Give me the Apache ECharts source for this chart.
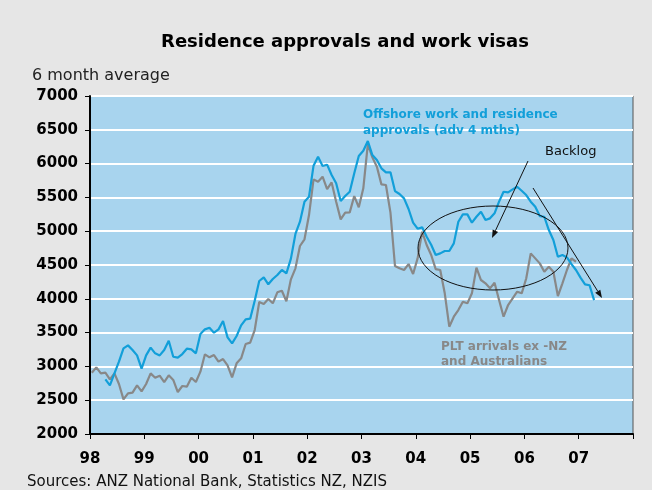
<!DOCTYPE html>
<html>
<head>
<meta charset="utf-8">
<script src="https://cdn.jsdelivr.net/npm/echarts@6/dist/echarts.min.js"></script>
<style>
html,body{margin:0;padding:0;background:#e6e6e6;}
#c{width:652px;height:490px;}
</style>
</head>
<body>
<div id="c"></div>
<script>
// Month index 0 = Jan 1998
const yearTicks = ['98','99','00','01','02','03','04','05','06','07',''];
const grayName = 'PLT arrivals ex -NZ and Australians';
const blueName = 'Offshore work and residence approvals (adv 4 mths)';
const grayStart = 0;
const grayValues = [
  2907,2986,2897,2907,2809,2897,2740,2513,2602,2611,2720,2631,
  2740,2897,2833,2863,2769,2868,2799,2621,2710,2700,2833,2769,
  2922,3179,3134,3168,3070,3109,3016,2838,3045,3119,3331,3351,
  3538,3952,3923,3997,3933,4096,4119,3963,4288,4451,4781,4880,
  5239,5767,5732,5806,5624,5722,5437,5175,5274,5279,5520,5353,
  5634,6289,6092,5954,5693,5683,5274,4485,4451,4426,4514,4366,
  4598,4992,4796,4648,4440,4426,4081,3587,3735,3834,3957,3933,
  4081,4460,4278,4229,4155,4238,3982,3735,3908,4007,4105,4081,
  4300,4672,4598,4524,4400,4475,4400,4041,4229,4426,4598,4548
];
const blueStart = 3;
const blueValues = [
  2809,2720,2897,3070,3267,3311,3242,3163,2966,
  3163,3277,3193,3163,3242,3380,3143,3129,3183,3262,3252,3193,
  3479,3548,3573,3499,3548,3671,3430,3341,3450,3607,3696,3706,
  3972,4263,4318,4214,4293,4352,4427,4377,4594,4959,5140,5437,
  5511,5969,6102,5964,5984,5831,5708,5446,5520,5584,5856,6112,
  6190,6334,6126,6052,5930,5871,5871,5594,5550,5486,5328,5126,
  5037,5057,4918,4800,4648,4672,4707,4707,4820,5140,5249,5249,
  5126,5214,5288,5165,5190,5264,5437,5584,5575,5619,5658,5599,
  5535,5437,5362,5224,5214,5017,4869,4623,4648,4613,4514,4426,
  4313,4214,4200,3980
];

const FONT = '"DejaVu Sans", Verdana, sans-serif';
const toPairs = (start, arr) => arr.map((v, i) => [start + i + 0.4, v]);

const chart = echarts.init(document.getElementById('c'), null, {renderer: 'canvas'});

function arrow(x1, y1, x2, y2) {
  const ang = Math.atan2(y2 - y1, x2 - x1);
  const L = 8, W = 3;
  const bx = x2 - L * Math.cos(ang), by = y2 - L * Math.sin(ang);
  const px = -Math.sin(ang) * W, py = Math.cos(ang) * W;
  return [
    {type: 'line', shape: {x1, y1, x2: bx, y2: by}, style: {stroke: '#111', lineWidth: 1}, z: 100},
    {type: 'polygon', shape: {points: [[x2, y2], [bx + px, by + py], [bx - px, by - py]]}, style: {fill: '#111'}, z: 100}
  ];
}

const option = {
  backgroundColor: '#e6e6e6',
  animation: false,
  title: {
    text: 'Residence approvals and work visas',
    left: 340, top: 28, textAlign: 'center',
    textStyle: {fontFamily: FONT, fontWeight: 'bold', fontSize: 18, color: '#000'}
  },
  grid: {
    left: 90, right: 19, top: 96, bottom: 56,
    show: true, backgroundColor: '#a8d4ee', borderColor: '#555', borderWidth: 1
  },
  xAxis: {
    type: 'value', min: 0, max: 120, interval: 12,
    axisLine: {show: true, onZero: false, lineStyle: {color: '#000', width: 2}},
    axisTick: {show: true, length: 5, lineStyle: {color: '#000', width: 1}},
    splitLine: {show: false},
    axisLabel: {
      margin: 18, fontFamily: FONT, fontWeight: 'bold', fontSize: 15, color: '#000',
      formatter: v => yearTicks[Math.round(v / 12)] || ''
    }
  },
  yAxis: {
    type: 'value', min: 2000, max: 7000, interval: 500,
    name: '6 month average', nameLocation: 'end', nameGap: 12,
    nameTextStyle: {fontFamily: FONT, fontSize: 16, color: '#222', align: 'left', padding: [0, 0, 0, -58]},
    axisLine: {show: true, lineStyle: {color: '#000', width: 2}},
    axisTick: {show: true, length: 5, lineStyle: {color: '#000', width: 1}},
    splitLine: {show: true, lineStyle: {color: '#ffffff', width: 2}},
    axisLabel: {margin: 12, fontFamily: FONT, fontWeight: 'bold', fontSize: 15, color: '#000', formatter: v => String(v)}
  },
  series: [
    {
      name: grayName, type: 'line', data: toPairs(grayStart, grayValues),
      showSymbol: false, lineStyle: {color: '#888888', width: 2.2}, z: 3
    },
    {
      name: blueName, type: 'line', data: toPairs(blueStart, blueValues),
      showSymbol: false, lineStyle: {color: '#129fd9', width: 2.2}, z: 4
    }
  ],
  graphic: [
    {type: 'text', left: 363, top: 107, z: 100, style: {text: 'Offshore work and residence\napprovals (adv 4 mths)', fontFamily: FONT, fontWeight: 'bold', fontSize: 12, lineHeight: 16, fill: '#129fd9'}},
    {type: 'text', left: 545, top: 145, z: 100, style: {text: 'Backlog', fontFamily: FONT, fontSize: 13, fill: '#111'}},
    {type: 'text', left: 441, top: 339, z: 100, style: {text: 'PLT arrivals ex -NZ\nand Australians', fontFamily: FONT, fontWeight: 'bold', fontSize: 12, lineHeight: 15, fill: '#888888'}},
    {type: 'text', left: 27, top: 475, z: 100, style: {text: 'Sources: ANZ National Bank, Statistics NZ, NZIS', fontFamily: FONT, fontSize: 15, fill: '#111'}},
    {type: 'ellipse', shape: {cx: 493, cy: 248, rx: 75, ry: 42}, style: {fill: 'none', stroke: '#111', lineWidth: 1}, z: 100}
  ].concat(arrow(528, 161, 492, 238), arrow(533, 188, 602, 298))
};
chart.setOption(option);
</script>
</body>
</html>
